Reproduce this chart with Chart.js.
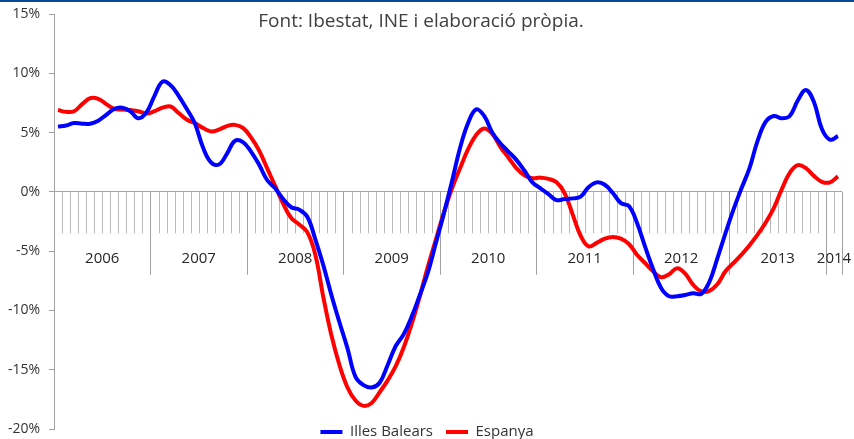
<!DOCTYPE html>
<html><head><meta charset="utf-8">
<script src="https://cdn.jsdelivr.net/npm/chart.js@4"></script>
<style>
html,body{margin:0;padding:0;background:#fff;overflow:hidden}
#wrap{position:relative;width:854px;height:439px}
#band{position:absolute;left:0;top:0;width:854px;height:2px;background:#0a4a9a;z-index:2}
canvas{display:block}
</style></head><body>
<div id="wrap"><div id="band"></div><canvas id="c" width="854" height="439"></canvas></div>
<script>
// ---- data ----
const YEARS = ['2006','2007','2008','2009','2010','2011','2012','2013','2014'];
const MONTHS_PER_YEAR = [12,12,12,12,12,12,12,12,2];
const CATEGORIES = [];
YEARS.forEach((yr, k) => { for (let m = 1; m <= MONTHS_PER_YEAR[k]; m++) CATEGORIES.push(yr + '-' + String(m).padStart(2,'0')); });

const ILLES_BALEARS = [
  5.5, 5.6, 5.8, 5.75, 5.75, 6.0, 6.5, 7.0, 7.1, 6.8, 6.2, 6.7,
  8.1, 9.3, 9.0, 8.1, 7.0, 5.8, 3.8, 2.5, 2.3, 3.2, 4.3, 4.2,
  3.4, 2.3, 1.0, 0.3, -0.6, -1.3, -1.5, -2.1, -4.0, -6.2, -8.7, -11.0,
  -13.2, -15.6, -16.3, -16.5, -16.1, -14.6, -13.0, -12.0, -10.5, -8.7, -6.8, -4.3,
  -1.8, 0.9, 3.7, 5.8, 6.95, 6.4, 5.0, 4.1, 3.4, 2.7, 1.8, 0.8,
  0.3, -0.2, -0.7, -0.6, -0.55, -0.4, 0.4, 0.8, 0.6, -0.1, -0.95, -1.2,
  -2.6, -4.6, -6.5, -8.1, -8.8, -8.8, -8.7, -8.55, -8.6, -7.6, -5.6, -3.5,
  -1.5, 0.3, 2.0, 4.3, 5.9, 6.4, 6.2, 6.4, 7.7, 8.6, 7.6, 5.3,
  4.4, 4.7
];
const ESPANYA = [
  6.9, 6.75, 6.8, 7.4, 7.9, 7.85, 7.4, 7.0, 6.95, 6.9, 6.8, 6.6,
  6.8, 7.1, 7.2, 6.65, 6.1, 5.8, 5.4, 5.1, 5.25, 5.55, 5.65, 5.4,
  4.6, 3.5, 2.0, 0.5, -1.0, -2.2, -2.75, -3.4, -5.3, -8.9, -12.1, -14.6,
  -16.5, -17.6, -18.05, -17.8, -16.9, -15.9, -14.7, -13.1, -11.1, -8.8, -6.3, -4.0,
  -1.7, 0.3, 2.0, 3.6, 4.8, 5.35, 4.9, 3.8, 2.9, 2.0, 1.4, 1.15,
  1.2, 1.1, 0.8, -0.1, -1.9, -3.7, -4.6, -4.3, -3.95, -3.8, -3.95, -4.4,
  -5.3, -6.0, -6.7, -7.2, -6.95, -6.45, -6.9, -7.85, -8.4, -8.35, -7.8, -6.7,
  -6.0, -5.3, -4.5, -3.6, -2.6, -1.4, 0.2, 1.6, 2.25, 2.0, 1.35, 0.85,
  0.8, 1.3
];
const Y_MIN = -20, Y_MAX = 15, Y_STEP = 5;
const MINOR_TICK_END = -3.5;
const MAJOR_TICK_END = -7.0;
const YEAR_LABEL_LEVEL = -5.65;
const TITLE = 'Font: Ibestat, INE i elaboració pròpia.';
const SERIES_NAMES = ['Illes Balears', 'Espanya'];

const FONT = "'Open Sans', sans-serif";
Chart.defaults.font.family = FONT;

const axisDecor = {
  id: 'axisDecor',
  afterLayout(chart) {
    const lg = chart.legend;
    if (lg) { lg.top -= 17.5; lg.left += 6; lg.right += 6; }
  },
  beforeDatasetsDraw(chart) {
    const xs = chart.scales.x, ys = chart.scales.y, ctx = chart.ctx;
    const n = CATEGORIES.length;
    const y0 = ys.getPixelForValue(0);
    const yMinor = ys.getPixelForValue(MINOR_TICK_END);
    const yMajor = ys.getPixelForValue(MAJOR_TICK_END);
    const bx = b => xs.getPixelForValue(b - 0.5);
    const starts = [0];
    MONTHS_PER_YEAR.forEach((m, k) => starts.push(starts[k] + m));
    ctx.save();
    ctx.lineWidth = 1;
    for (let b = 1; b <= n; b++) {
      const major = starts.includes(b);
      const x = Math.round(bx(b)) + 0.5;
      ctx.strokeStyle = major ? '#a0a0a0' : '#b8b8b8';
      ctx.beginPath();
      ctx.moveTo(x, y0);
      ctx.lineTo(x, major ? yMajor : yMinor);
      ctx.stroke();
    }
    ctx.fillStyle = '#262626';
    ctx.font = "15px " + FONT;
    ctx.textAlign = 'center';
    ctx.textBaseline = 'middle';
    const yl = ys.getPixelForValue(YEAR_LABEL_LEVEL);
    YEARS.forEach((yr, k) => {
      const cx = (bx(starts[k]) + bx(starts[k + 1])) / 2;
      ctx.fillText(yr, cx, yl);
    });
    ctx.restore();
  }
};

new Chart(document.getElementById('c'), {
  type: 'line',
  data: {
    labels: CATEGORIES,
    datasets: [
      { label: SERIES_NAMES[0], data: ILLES_BALEARS, borderColor: '#0000ff', backgroundColor: '#0000ff',
        borderWidth: 4, pointRadius: 0, tension: 0.4, fill: false },
      { label: SERIES_NAMES[1], data: ESPANYA, borderColor: '#ff0000', backgroundColor: '#ff0000',
        borderWidth: 4, pointRadius: 0, tension: 0.4, fill: false }
    ]
  },
  options: {
    responsive: false,
    animation: false,
    devicePixelRatio: 1,
    layout: { padding: { left: 0, right: 12, top: 0, bottom: 0 } },
    scales: {
      x: { type: 'category', offset: true, display: false },
      y: {
        min: Y_MIN, max: Y_MAX,
        afterFit(scale) { scale.width = 54; },
        ticks: { stepSize: Y_STEP, padding: 0, color: '#333', font: { size: 14 },
                 callback: v => v + '%' },
        grid: {
          drawTicks: true, tickLength: 14, tickColor: '#a0a0a0', tickBorderDash: [0, 9, 5, 40],
          color: c => (c.tick && c.tick.value === 0) ? '#a6a6a6' : 'rgba(0,0,0,0)'
        },
        border: { display: true, color: '#a0a0a0', width: 1 }
      }
    },
    plugins: {
      title: {
        display: true, text: TITLE, color: '#404040',
        font: { size: 19, weight: 'normal', lineHeight: 1.2 },
        padding: { top: 10.6, bottom: -19.4 }
      },
      legend: {
        position: 'bottom',
        maxHeight: 10,
        labels: {
          color: '#333', font: { size: 15 }, boxWidth: 22, boxHeight: 4, padding: 13,
          generateLabels(chart) {
            const items = Chart.defaults.plugins.legend.labels.generateLabels(chart);
            items.forEach(it => { it.lineWidth = 0; });
            return items;
          }
        }
      },
      tooltip: { enabled: false }
    }
  },
  plugins: [axisDecor]
});
</script>
</body></html>
